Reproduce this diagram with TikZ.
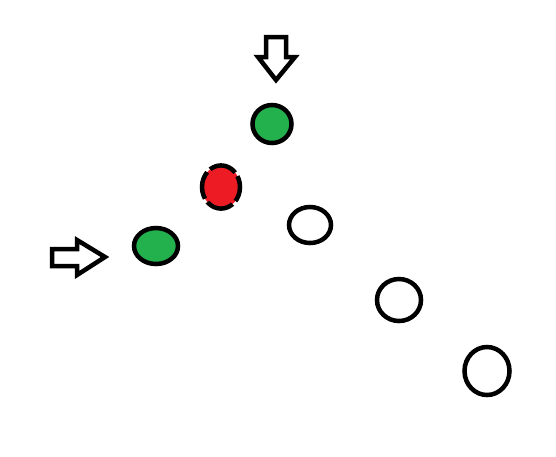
\documentclass[tikz,border=0pt]{standalone}
\usepackage{tikz}
\usetikzlibrary{shapes.geometric}
\definecolor{paintGreen}{HTML}{22B14C}
\definecolor{paintRed}{HTML}{ED1C24}

\begin{document}
\begin{tikzpicture}[
          x=0.025cm,y=-0.025cm,
          spot/.style={ellipse,draw=black,line width=3.2pt,fill=white,
                       inner sep=0pt},
          pointer/.style={draw=black,line width=3.2pt,fill=white,
                          line join=miter},
        ]
        \useasboundingbox (0,0) rectangle (556,456);
        % the filled spots
        \node[spot,fill=paintGreen,minimum width=0.975cm,minimum height=0.95cm] (gTop) at (272,124) {};
        \node[spot,draw=none,fill=paintRed,minimum width=0.95cm,minimum height=1.08cm] (rMid) at (221,187) {};
        \node[spot,fill=none,dash pattern=on 20pt off 3pt,dash phase=12pt,minimum width=0.95cm,minimum height=1.08cm] (rRing) at (221,187) {};
        \node[spot,fill=paintGreen,minimum width=1.1cm,minimum height=0.9cm] (gLeft) at (156,246) {};
        % the empty spots
        \node[spot,minimum width=1.05cm,minimum height=0.9cm] (w1) at (310,225) {};
        \node[spot,minimum width=1.1cm,minimum height=1.05cm] (w2) at (399,300) {};
        \node[spot,minimum width=1.125cm,minimum height=1.2cm] (w3) at (487,371) {};
        % pointers
        \draw[pointer] (52,249) -- (77,249) -- (77,240) -- (105,257)
                       -- (77,275) -- (77,266) -- (52,266) -- cycle;
        \draw[pointer] (266,37) -- (286,37) -- (286,57) -- (295,57)
                       -- (276,80) -- (258,57) -- (266,57) -- cycle;
      \end{tikzpicture}
\end{document}
